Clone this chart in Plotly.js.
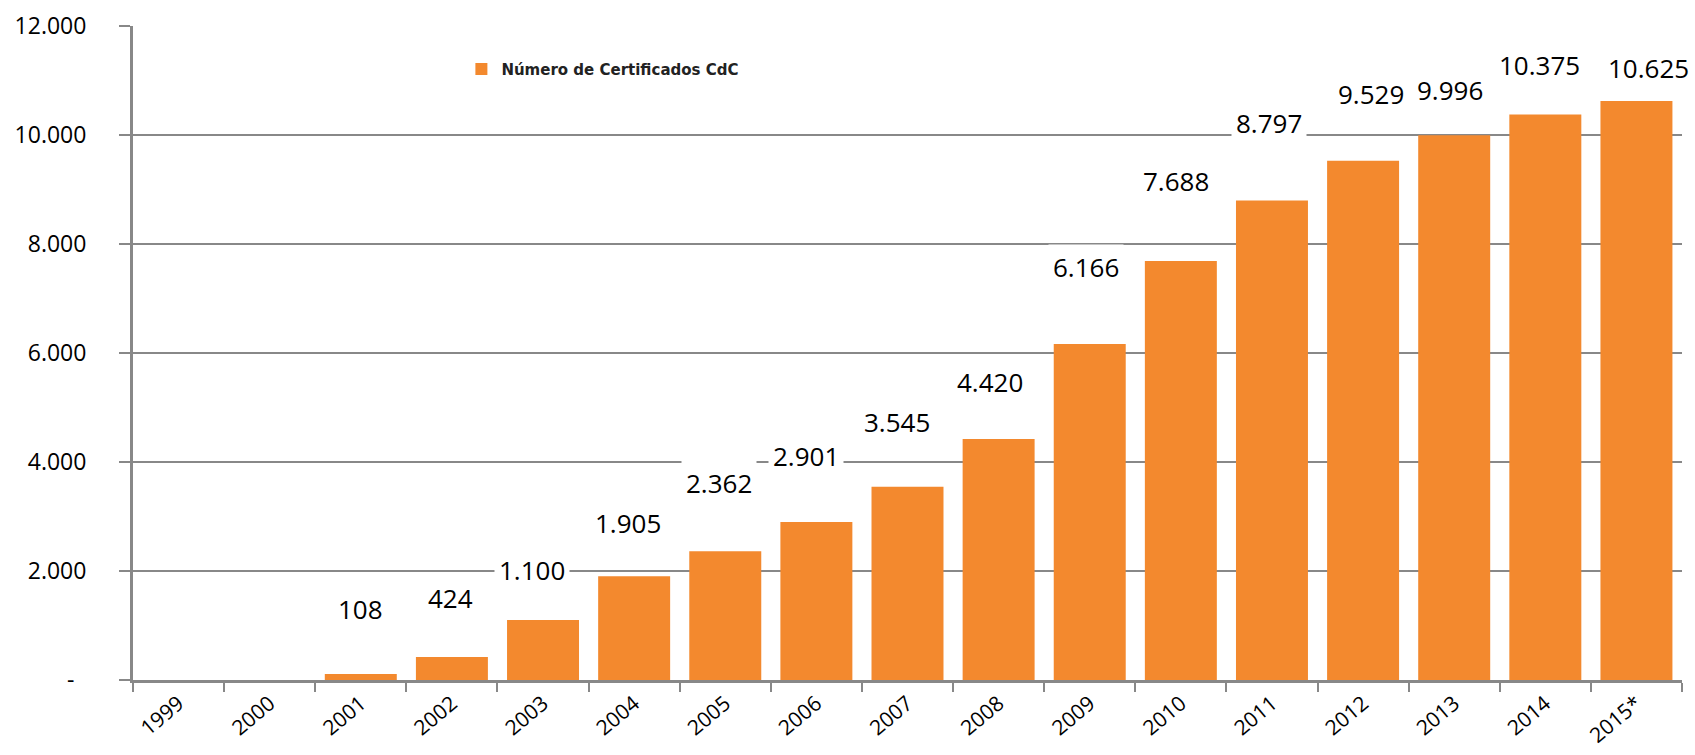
<!DOCTYPE html>
<html>
<head>
<meta charset="utf-8">
<script src="https://cdn.plot.ly/plotly-3.0.1.min.js"></script>
<style>html,body{margin:0;padding:0;background:#fff;}#chart{width:1695px;height:755px;}</style>
</head>
<body>
<div id="chart"></div>
<script>
// ---- data ----
const years = ["1999","2000","2001","2002","2003","2004","2005","2006","2007","2008","2009","2010","2011","2012","2013","2014","2015*"];
const certificates = [0,0,108,424,1100,1905,2362,2901,3545,4420,6166,7688,8797,9529,9996,10375,10625];
const seriesName = "Número de Certificados CdC";
const yTickVals = [0,2000,4000,6000,8000,10000,12000];
const yTickText = ["-\u00a0\u00a0","2.000","4.000","6.000","8.000","10.000","12.000"];

// label placement (pixel offsets from bar top, style only)
const labelYShift = [0,0,65,59,50,53,68,66,65,57,77,80,78,67,45,50,33];
const labelXShift = [0,0,0,-1,-11,-6,-6,-10,-11,-9,-4,-5,-3,8,-4,-6,12];

function fmt(v){
  return String(v).replace(/\B(?=(\d{3})+(?!\d))/g, ".");
}

const annotations = [];
years.forEach((y,i)=>{
  if(certificates[i] > 0){
    annotations.push({
      x: i, y: certificates[i], xref:'x', yref:'y',
      text: fmt(certificates[i]), showarrow:false,
      yanchor:'middle', xanchor:'center',
      yshift: labelYShift[i], xshift: labelXShift[i],
      bgcolor:'#ffffff', borderpad:4,
      font:{family:'"Open Sans", sans-serif', size:26, color:'#000'}
    });
  }
});

const trace = {
  type:'bar', x: years, y: certificates, name: seriesName,
  marker:{color:'#F3892E'}, showlegend:true, hoverinfo:'x+y'
};

const layout = {
  width:1695, height:755,
  margin:{l:133, r:13, t:26, b:75, pad:0},
  paper_bgcolor:'#fff', plot_bgcolor:'#fff',
  bargap:0.21,
  showlegend:true,
  legend:{x:0.212, y:0.934, xanchor:'left', yanchor:'middle', bgcolor:'rgba(0,0,0,0)',
    font:{family:'"DejaVu Sans", sans-serif', size:15, color:'#222', weight:'bold'}},
  xaxis:{
    type:'category', range:[-0.5, years.length-0.5], showgrid:false, zeroline:false,
    showline:true, linecolor:'#888', linewidth:3,
    ticks:'outside', tickson:'boundaries', ticklen:9, tickwidth:2, tickcolor:'#888',
    tickangle:-40, ticklabelstandoff:0, automargin:false,
    tickfont:{family:'"Open Sans", sans-serif', size:21, color:'#000'}
  },
  yaxis:{
    range:[0,12000], showgrid:true, gridcolor:'#888', gridwidth:2,
    zeroline:false, showline:true, linecolor:'#888', linewidth:3,
    ticks:'outside', ticklen:11, tickwidth:2, tickcolor:'#888',
    tickvals:yTickVals, ticktext:yTickText, ticklabelstandoff:28,
    tickfont:{family:'"Open Sans", sans-serif', size:23, color:'#000'}
  },
  annotations: annotations
};

Plotly.newPlot('chart',[trace],layout,{displayModeBar:false, staticPlot:true});
</script>
</body>
</html>
